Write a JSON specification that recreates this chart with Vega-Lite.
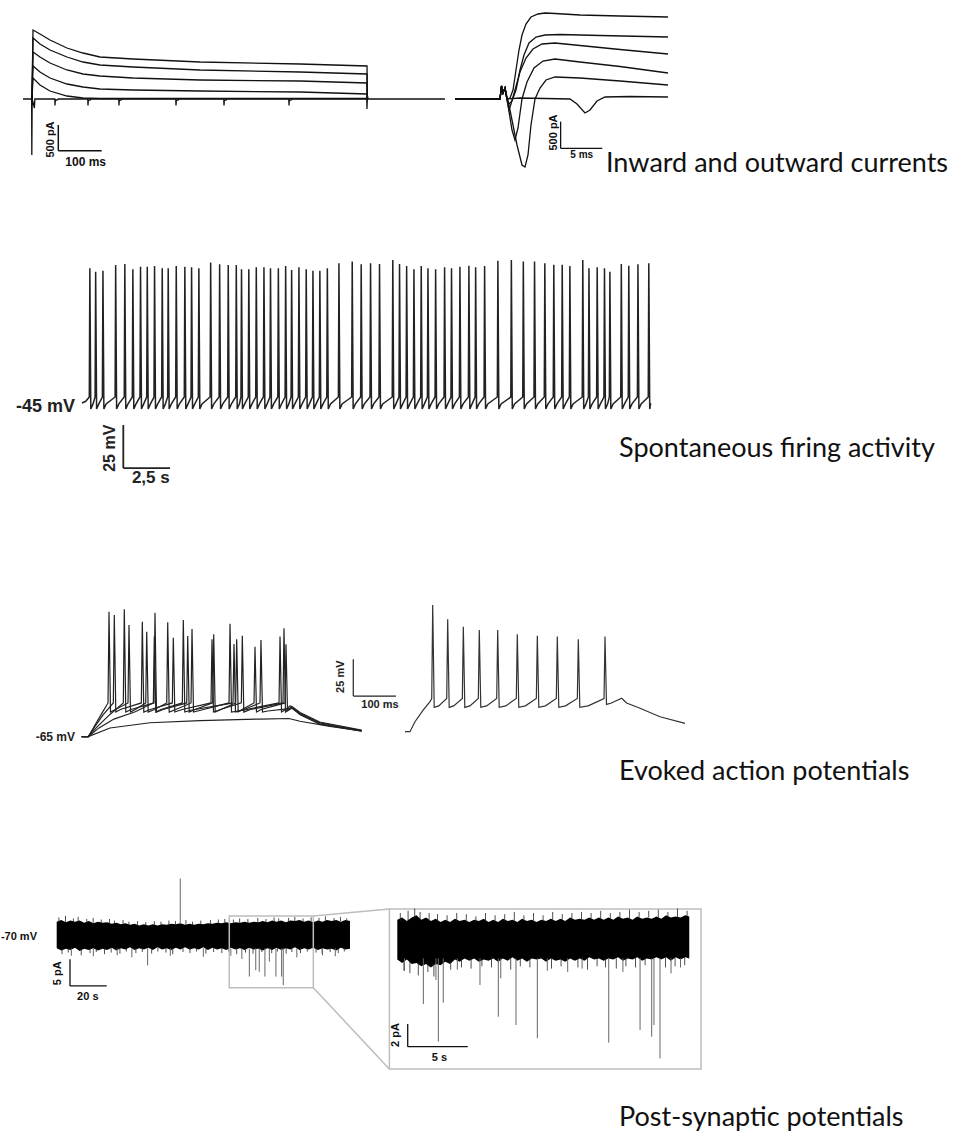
{
"$schema": "https://vega.github.io/schema/vega-lite/v6.json",
"padding": 0,
"background": "white",
"config": {"view": {"stroke": null}, "concat": {"spacing": 0}},
"spacing": 0,
"bounds": "full",
"vconcat": [
{"hconcat": [
 {"width": 450, "height": 200,
  "encoding": {
   "x": {"field": "t", "type": "quantitative", "scale": {"domain": [-72.7, 950], "nice": false, "zero": false}, "axis": null},
   "y": {"field": "v", "type": "quantitative", "scale": {"domain": [-2020, 1980], "nice": false, "zero": false}, "axis": null}},
  "layer": [
   {"data": {"values": [
    {"k":"a1","t":0,"v":0},{"k":"a1","t":2.3,"v":1380},{"k":"a1","t":18.2,"v":1300},{"k":"a1","t":40.9,"v":1180},{"k":"a1","t":79.5,"v":1020},{"k":"a1","t":115.9,"v":920},{"k":"a1","t":154.5,"v":840},{"k":"a1","t":229.5,"v":800},{"k":"a1","t":381.8,"v":740},{"k":"a1","t":609.1,"v":700},{"k":"a1","t":761.4,"v":660},{"k":"a1","t":762,"v":0},
    {"k":"a2","t":0,"v":0},{"k":"a2","t":2.3,"v":1220},{"k":"a2","t":18.2,"v":1100},{"k":"a2","t":40.9,"v":980},{"k":"a2","t":79.5,"v":840},{"k":"a2","t":115.9,"v":740},{"k":"a2","t":154.5,"v":680},{"k":"a2","t":229.5,"v":640},{"k":"a2","t":381.8,"v":580},{"k":"a2","t":609.1,"v":540},{"k":"a2","t":761.4,"v":500},{"k":"a2","t":762,"v":0},
    {"k":"a3","t":0,"v":0},{"k":"a3","t":2.3,"v":940},{"k":"a3","t":18.2,"v":840},{"k":"a3","t":40.9,"v":720},{"k":"a3","t":79.5,"v":580},{"k":"a3","t":115.9,"v":500},{"k":"a3","t":154.5,"v":460},{"k":"a3","t":229.5,"v":420},{"k":"a3","t":381.8,"v":380},{"k":"a3","t":609.1,"v":360},{"k":"a3","t":761.4,"v":320},{"k":"a3","t":762,"v":0},
    {"k":"a4","t":0,"v":0},{"k":"a4","t":2.3,"v":660},{"k":"a4","t":18.2,"v":540},{"k":"a4","t":40.9,"v":420},{"k":"a4","t":79.5,"v":300},{"k":"a4","t":115.9,"v":240},{"k":"a4","t":154.5,"v":200},{"k":"a4","t":229.5,"v":180},{"k":"a4","t":381.8,"v":160},{"k":"a4","t":609.1,"v":140},{"k":"a4","t":761.4,"v":100},{"k":"a4","t":762,"v":0},
    {"k":"a5","t":0,"v":0},{"k":"a5","t":2.3,"v":420},{"k":"a5","t":18.2,"v":280},{"k":"a5","t":40.9,"v":160},{"k":"a5","t":79.5,"v":60},{"k":"a5","t":115.9,"v":20},{"k":"a5","t":154.5,"v":10},{"k":"a5","t":761.4,"v":10},{"k":"a5","t":762,"v":0},
    {"k":"a0","t":-20.5,"v":0},{"k":"a0","t":-0.8,"v":0},{"k":"a0","t":-0.4,"v":-1120},{"k":"a0","t":0.4,"v":0},{"k":"a0","t":5.5,"v":-180},{"k":"a0","t":6.5,"v":0},
    {"k":"a0","t":51.8,"v":0},{"k":"a0","t":52.3,"v":-130},{"k":"a0","t":53,"v":-20},{"k":"a0","t":57,"v":-20},{"k":"a0","t":60,"v":0},
    {"k":"a0","t":126.8,"v":0},{"k":"a0","t":127.3,"v":-130},{"k":"a0","t":128,"v":-20},{"k":"a0","t":132,"v":-20},{"k":"a0","t":135,"v":0},
    {"k":"a0","t":197.2,"v":0},{"k":"a0","t":197.7,"v":-130},{"k":"a0","t":198.4,"v":-20},{"k":"a0","t":202.4,"v":-20},{"k":"a0","t":205.4,"v":0},
    {"k":"a0","t":326.8,"v":0},{"k":"a0","t":327.3,"v":-130},{"k":"a0","t":328,"v":-20},{"k":"a0","t":332,"v":-20},{"k":"a0","t":335,"v":0},
    {"k":"a0","t":435.9,"v":0},{"k":"a0","t":436.4,"v":-130},{"k":"a0","t":437.1,"v":-20},{"k":"a0","t":441.1,"v":-20},{"k":"a0","t":444.1,"v":0},
    {"k":"a0","t":583.6,"v":0},{"k":"a0","t":584.1,"v":-130},{"k":"a0","t":584.8,"v":-20},{"k":"a0","t":588.8,"v":-20},{"k":"a0","t":591.8,"v":0},
    {"k":"a0","t":760.8,"v":0},{"k":"a0","t":761.3,"v":-200},{"k":"a0","t":762.3,"v":60},{"k":"a0","t":764,"v":0},{"k":"a0","t":938.6,"v":0}
   ]},
    "mark": {"type": "line", "color": "#111", "strokeWidth": 1.3},
    "encoding": {"detail": {"field": "k"}, "order": {"value": null}}},
   {"data": {"values": [{"t":59.8,"v":-520,"t2":59.8,"v2":-1034},{"t":59.8,"v":-1034,"t2":158.4,"v2":-1034}]},
    "mark": {"type": "rule", "color": "#111", "strokeWidth": 1.5},
    "encoding": {"x2": {"field": "t2"}, "y2": {"field": "v2"}}},
   {"data": {"values": [{"t":122,"v":-1255,"s":"100 ms"}]},
    "mark": {"type": "text", "font": "Liberation Sans", "fontWeight": "bold", "fontSize": 12, "align": "center", "baseline": "middle", "color": "#111"},
    "encoding": {"text": {"field": "s"}}},
   {"data": {"values": [{"t":43.2,"v":-810,"s":"500 pA"}]},
    "mark": {"type": "text", "font": "Liberation Sans", "fontWeight": "bold", "fontSize": 11, "align": "center", "baseline": "middle", "angle": 270, "color": "#111"},
    "encoding": {"text": {"field": "s"}}}
  ]},
 {"width": 517, "height": 200,
  "encoding": {
   "x": {"field": "t", "type": "quantitative", "scale": {"domain": [-6.190, 55.357], "nice": false, "zero": false}, "axis": null},
   "y": {"field": "v", "type": "quantitative", "scale": {"domain": [-2020, 1980], "nice": false, "zero": false}, "axis": null}},
  "layer": [
   {"data": {"values": [
    {"k":"b1","t":-5.595,"v":0},{"k":"b1","t":-0.238,"v":0},{"k":"b1","t":-0.06,"v":260},{"k":"b1","t":0.119,"v":120},{"k":"b1","t":0.357,"v":220},{"k":"b1","t":0.595,"v":0},{"k":"b1","t":0.952,"v":20},{"k":"b1","t":1.31,"v":180},{"k":"b1","t":1.667,"v":580},{"k":"b1","t":2.024,"v":980},{"k":"b1","t":2.381,"v":1280},{"k":"b1","t":2.857,"v":1500},{"k":"b1","t":3.452,"v":1640},{"k":"b1","t":4.286,"v":1700},{"k":"b1","t":5.119,"v":1720},{"k":"b1","t":6.31,"v":1710},{"k":"b1","t":9.286,"v":1680},{"k":"b1","t":14.048,"v":1660},{"k":"b1","t":19.76,"v":1640},
    {"k":"b2","t":-5.595,"v":0},{"k":"b2","t":-0.238,"v":0},{"k":"b2","t":-0.06,"v":260},{"k":"b2","t":0.119,"v":120},{"k":"b2","t":0.357,"v":220},{"k":"b2","t":0.595,"v":0},{"k":"b2","t":0.833,"v":-100},{"k":"b2","t":1.19,"v":-40},{"k":"b2","t":1.667,"v":180},{"k":"b2","t":2.143,"v":580},{"k":"b2","t":2.619,"v":880},{"k":"b2","t":3.214,"v":1120},{"k":"b2","t":4.048,"v":1240},{"k":"b2","t":5.119,"v":1280},{"k":"b2","t":6.905,"v":1290},{"k":"b2","t":11.667,"v":1270},{"k":"b2","t":19.76,"v":1240},
    {"k":"b3","t":-5.595,"v":0},{"k":"b3","t":-0.238,"v":0},{"k":"b3","t":-0.06,"v":260},{"k":"b3","t":0.119,"v":120},{"k":"b3","t":0.357,"v":220},{"k":"b3","t":0.595,"v":-20},{"k":"b3","t":0.833,"v":-220},{"k":"b3","t":1.071,"v":-100},{"k":"b3","t":1.548,"v":180},{"k":"b3","t":2.143,"v":540},{"k":"b3","t":2.857,"v":820},{"k":"b3","t":3.69,"v":1000},{"k":"b3","t":4.762,"v":1100},{"k":"b3","t":6.31,"v":1120},{"k":"b3","t":9.286,"v":1070},{"k":"b3","t":14.048,"v":990},{"k":"b3","t":19.76,"v":900},
    {"k":"b4","t":-5.595,"v":0},{"k":"b4","t":-0.238,"v":0},{"k":"b4","t":-0.06,"v":260},{"k":"b4","t":0.119,"v":120},{"k":"b4","t":0.357,"v":220},{"k":"b4","t":0.714,"v":-120},{"k":"b4","t":1.19,"v":-620},{"k":"b4","t":1.548,"v":-820},{"k":"b4","t":1.905,"v":-580},{"k":"b4","t":2.381,"v":0},{"k":"b4","t":2.976,"v":340},{"k":"b4","t":3.81,"v":620},{"k":"b4","t":4.881,"v":760},{"k":"b4","t":6.31,"v":800},{"k":"b4","t":9.286,"v":740},{"k":"b4","t":14.048,"v":650},{"k":"b4","t":19.76,"v":520},
    {"k":"b5","t":-5.595,"v":0},{"k":"b5","t":-0.238,"v":0},{"k":"b5","t":-0.06,"v":260},{"k":"b5","t":0.119,"v":120},{"k":"b5","t":0.357,"v":220},{"k":"b5","t":0.952,"v":-220},{"k":"b5","t":1.786,"v":-920},{"k":"b5","t":2.381,"v":-1320},{"k":"b5","t":2.738,"v":-1360},{"k":"b5","t":3.095,"v":-1120},{"k":"b5","t":3.452,"v":-520},{"k":"b5","t":3.929,"v":0},{"k":"b5","t":4.524,"v":220},{"k":"b5","t":5.238,"v":380},{"k":"b5","t":6.31,"v":440},{"k":"b5","t":9.286,"v":420},{"k":"b5","t":14.048,"v":360},{"k":"b5","t":19.76,"v":280},
    {"k":"b0","t":-5.595,"v":0},{"k":"b0","t":-0.238,"v":0},{"k":"b0","t":-0.06,"v":260},{"k":"b0","t":0.119,"v":120},{"k":"b0","t":0.357,"v":220},{"k":"b0","t":0.595,"v":0},{"k":"b0","t":2.143,"v":20},{"k":"b0","t":8.095,"v":0},{"k":"b0","t":8.929,"v":-100},{"k":"b0","t":9.881,"v":-280},{"k":"b0","t":10.476,"v":-220},{"k":"b0","t":11.31,"v":-40},{"k":"b0","t":12.262,"v":40},{"k":"b0","t":15.238,"v":50},{"k":"b0","t":19.76,"v":40}
   ]},
    "mark": {"type": "line", "color": "#111", "strokeWidth": 1.3},
    "encoding": {"detail": {"field": "k"}, "order": {"value": null}}},
   {"data": {"values": [{"t":6.98,"v":-453,"t2":6.98,"v2":-987},{"t":6.98,"v":-987,"t2":11.94,"v2":-987}]},
    "mark": {"type": "rule", "color": "#111", "strokeWidth": 1.3},
    "encoding": {"x2": {"field": "t2"}, "y2": {"field": "v2"}}},
   {"data": {"values": [{"t":9.49,"v":-1120,"s":"5 ms"}]},
    "mark": {"type": "text", "font": "Liberation Sans", "fontWeight": "bold", "fontSize": 10, "align": "center", "baseline": "middle", "color": "#111"},
    "encoding": {"text": {"field": "s"}}},
   {"data": {"values": [{"t":6.19,"v":-670,"s":"500 pA"}]},
    "mark": {"type": "text", "font": "Liberation Sans", "fontWeight": "bold", "fontSize": 11, "align": "center", "baseline": "middle", "angle": 270, "color": "#111"},
    "encoding": {"text": {"field": "s"}}},
   {"data": {"values": [{"t":12.38,"v":-1460,"s":"Inward and outward currents"}]},
    "mark": {"type": "text", "font": "Lato", "fontSize": 27, "align": "left", "baseline": "alphabetic", "color": "#111"},
    "encoding": {"text": {"field": "s"}}}
  ]}
], "spacing": 0, "bounds": "flush"},
{"width": 967, "height": 320,
 "encoding": {
  "x": {"field": "t", "type": "quantitative", "scale": {"domain": [-4.385, 47.326], "nice": false, "zero": false}, "axis": null},
  "y": {"field": "v", "type": "quantitative", "scale": {"domain": [-113.0, 73.0], "nice": false, "zero": false}, "axis": null}},
 "layer": [
  {"data": {"values": [
   {"t":0,"v":-45},{"t":0.2,"v":-44},
   {"t":0.39,"v":-41.5},{"t":0.42,"v":33.3},{"t":0.47,"v":-48.5},{"t":0.59,"v":-45.5},
   {"t":0.70,"v":-41.5},{"t":0.73,"v":31.3},{"t":0.78,"v":-48.5},{"t":0.90,"v":-45.5},
   {"t":1.09,"v":-41.5},{"t":1.12,"v":31.9},{"t":1.17,"v":-48.5},{"t":1.29,"v":-45.5},
   {"t":1.77,"v":-41.5},{"t":1.80,"v":35.2},{"t":1.85,"v":-48.5},{"t":1.97,"v":-45.5},
   {"t":2.26,"v":-41.5},{"t":2.29,"v":35.8},{"t":2.34,"v":-48.5},{"t":2.46,"v":-45.5},
   {"t":2.69,"v":-41.5},{"t":2.72,"v":32.7},{"t":2.77,"v":-48.5},{"t":2.89,"v":-45.5},
   {"t":3.10,"v":-41.5},{"t":3.13,"v":34.2},{"t":3.18,"v":-48.5},{"t":3.30,"v":-45.5},
   {"t":3.46,"v":-41.5},{"t":3.49,"v":34.2},{"t":3.54,"v":-48.5},{"t":3.66,"v":-45.5},
   {"t":3.85,"v":-41.5},{"t":3.88,"v":34.7},{"t":3.93,"v":-48.5},{"t":4.05,"v":-45.5},
   {"t":4.26,"v":-41.5},{"t":4.29,"v":33.3},{"t":4.34,"v":-48.5},{"t":4.46,"v":-45.5},
   {"t":4.58,"v":-41.5},{"t":4.61,"v":33.3},{"t":4.66,"v":-48.5},{"t":4.78,"v":-45.5},
   {"t":5.01,"v":-41.5},{"t":5.04,"v":34.7},{"t":5.09,"v":-48.5},{"t":5.21,"v":-45.5},
   {"t":5.47,"v":-41.5},{"t":5.50,"v":34.2},{"t":5.55,"v":-48.5},{"t":5.67,"v":-45.5},
   {"t":5.83,"v":-41.5},{"t":5.86,"v":33.9},{"t":5.91,"v":-48.5},{"t":6.03,"v":-45.5},
   {"t":6.22,"v":-41.5},{"t":6.25,"v":33.3},{"t":6.30,"v":-48.5},{"t":6.42,"v":-45.5},
   {"t":6.85,"v":-41.5},{"t":6.88,"v":36.6},{"t":6.93,"v":-48.5},{"t":7.05,"v":-45.5},
   {"t":7.33,"v":-41.5},{"t":7.36,"v":35.6},{"t":7.41,"v":-48.5},{"t":7.53,"v":-45.5},
   {"t":7.79,"v":-41.5},{"t":7.82,"v":35.2},{"t":7.87,"v":-48.5},{"t":7.99,"v":-45.5},
   {"t":8.22,"v":-41.5},{"t":8.25,"v":35.2},{"t":8.30,"v":-48.5},{"t":8.42,"v":-45.5},
   {"t":8.50,"v":-41.5},{"t":8.53,"v":32.7},{"t":8.58,"v":-48.5},{"t":8.70,"v":-45.5},
   {"t":8.89,"v":-41.5},{"t":8.92,"v":32.7},{"t":8.97,"v":-48.5},{"t":9.09,"v":-45.5},
   {"t":9.29,"v":-41.5},{"t":9.32,"v":33.9},{"t":9.37,"v":-48.5},{"t":9.49,"v":-45.5},
   {"t":9.70,"v":-41.5},{"t":9.73,"v":33.9},{"t":9.78,"v":-48.5},{"t":9.90,"v":-45.5},
   {"t":10.05,"v":-41.5},{"t":10.08,"v":33.3},{"t":10.13,"v":-48.5},{"t":10.25,"v":-45.5},
   {"t":10.47,"v":-41.5},{"t":10.50,"v":33.3},{"t":10.55,"v":-48.5},{"t":10.67,"v":-45.5},
   {"t":10.86,"v":-41.5},{"t":10.89,"v":34.7},{"t":10.94,"v":-48.5},{"t":11.06,"v":-45.5},
   {"t":11.18,"v":-41.5},{"t":11.21,"v":32.3},{"t":11.26,"v":-48.5},{"t":11.38,"v":-45.5},
   {"t":11.57,"v":-41.5},{"t":11.60,"v":33.9},{"t":11.65,"v":-48.5},{"t":11.77,"v":-45.5},
   {"t":11.96,"v":-41.5},{"t":11.99,"v":32.7},{"t":12.04,"v":-48.5},{"t":12.16,"v":-45.5},
   {"t":12.32,"v":-41.5},{"t":12.35,"v":31.9},{"t":12.40,"v":-48.5},{"t":12.52,"v":-45.5},
   {"t":12.69,"v":-41.5},{"t":12.72,"v":31.9},{"t":12.77,"v":-48.5},{"t":12.89,"v":-45.5},
   {"t":13.09,"v":-41.5},{"t":13.12,"v":33.3},{"t":13.17,"v":-48.5},{"t":13.29,"v":-45.5},
   {"t":13.71,"v":-41.5},{"t":13.74,"v":36.2},{"t":13.79,"v":-48.5},{"t":13.91,"v":-45.5},
   {"t":14.42,"v":-41.5},{"t":14.45,"v":37.2},{"t":14.50,"v":-48.5},{"t":14.62,"v":-45.5},
   {"t":14.90,"v":-41.5},{"t":14.93,"v":35.6},{"t":14.98,"v":-48.5},{"t":15.10,"v":-45.5},
   {"t":15.40,"v":-41.5},{"t":15.43,"v":36.2},{"t":15.48,"v":-48.5},{"t":15.60,"v":-45.5},
   {"t":15.88,"v":-41.5},{"t":15.91,"v":35.8},{"t":15.96,"v":-48.5},{"t":16.08,"v":-45.5},
   {"t":16.59,"v":-41.5},{"t":16.62,"v":38.1},{"t":16.67,"v":-48.5},{"t":16.79,"v":-45.5},
   {"t":16.95,"v":-41.5},{"t":16.98,"v":35.8},{"t":17.03,"v":-48.5},{"t":17.15,"v":-45.5},
   {"t":17.33,"v":-41.5},{"t":17.36,"v":34.7},{"t":17.41,"v":-48.5},{"t":17.53,"v":-45.5},
   {"t":17.72,"v":-41.5},{"t":17.75,"v":32.7},{"t":17.80,"v":-48.5},{"t":17.92,"v":-45.5},
   {"t":18.11,"v":-41.5},{"t":18.14,"v":34.7},{"t":18.19,"v":-48.5},{"t":18.31,"v":-45.5},
   {"t":18.47,"v":-41.5},{"t":18.50,"v":33.3},{"t":18.55,"v":-48.5},{"t":18.67,"v":-45.5},
   {"t":18.88,"v":-41.5},{"t":18.91,"v":32.7},{"t":18.96,"v":-48.5},{"t":19.08,"v":-45.5},
   {"t":19.36,"v":-41.5},{"t":19.39,"v":33.9},{"t":19.44,"v":-48.5},{"t":19.56,"v":-45.5},
   {"t":19.73,"v":-41.5},{"t":19.76,"v":33.3},{"t":19.81,"v":-48.5},{"t":19.93,"v":-45.5},
   {"t":20.18,"v":-41.5},{"t":20.21,"v":34.2},{"t":20.26,"v":-48.5},{"t":20.38,"v":-45.5},
   {"t":20.66,"v":-41.5},{"t":20.69,"v":34.8},{"t":20.74,"v":-48.5},{"t":20.86,"v":-45.5},
   {"t":21.02,"v":-41.5},{"t":21.05,"v":33.9},{"t":21.10,"v":-48.5},{"t":21.22,"v":-45.5},
   {"t":21.50,"v":-41.5},{"t":21.53,"v":34.7},{"t":21.58,"v":-48.5},{"t":21.70,"v":-45.5},
   {"t":22.21,"v":-41.5},{"t":22.24,"v":37.7},{"t":22.29,"v":-48.5},{"t":22.41,"v":-45.5},
   {"t":22.93,"v":-41.5},{"t":22.96,"v":38.1},{"t":23.01,"v":-48.5},{"t":23.13,"v":-45.5},
   {"t":23.57,"v":-41.5},{"t":23.60,"v":37.2},{"t":23.65,"v":-48.5},{"t":23.77,"v":-45.5},
   {"t":24.17,"v":-41.5},{"t":24.20,"v":37.2},{"t":24.25,"v":-48.5},{"t":24.37,"v":-45.5},
   {"t":24.72,"v":-41.5},{"t":24.75,"v":36.2},{"t":24.80,"v":-48.5},{"t":24.92,"v":-45.5},
   {"t":25.20,"v":-41.5},{"t":25.23,"v":35.4},{"t":25.28,"v":-48.5},{"t":25.40,"v":-45.5},
   {"t":25.65,"v":-41.5},{"t":25.68,"v":35.4},{"t":25.73,"v":-48.5},{"t":25.85,"v":-45.5},
   {"t":26.06,"v":-41.5},{"t":26.09,"v":34.7},{"t":26.14,"v":-48.5},{"t":26.26,"v":-45.5},
   {"t":26.75,"v":-41.5},{"t":26.78,"v":38.1},{"t":26.83,"v":-48.5},{"t":26.95,"v":-45.5},
   {"t":27.08,"v":-41.5},{"t":27.11,"v":33.3},{"t":27.16,"v":-48.5},{"t":27.28,"v":-45.5},
   {"t":27.52,"v":-41.5},{"t":27.55,"v":33.9},{"t":27.60,"v":-48.5},{"t":27.72,"v":-45.5},
   {"t":27.91,"v":-41.5},{"t":27.94,"v":33.3},{"t":27.99,"v":-48.5},{"t":28.11,"v":-45.5},
   {"t":28.20,"v":-41.5},{"t":28.23,"v":31.3},{"t":28.28,"v":-48.5},{"t":28.40,"v":-45.5},
   {"t":28.81,"v":-41.5},{"t":28.84,"v":35.8},{"t":28.89,"v":-48.5},{"t":29.01,"v":-45.5},
   {"t":29.21,"v":-41.5},{"t":29.24,"v":34.8},{"t":29.29,"v":-48.5},{"t":29.41,"v":-45.5},
   {"t":29.70,"v":-41.5},{"t":29.73,"v":35.6},{"t":29.78,"v":-48.5},{"t":29.90,"v":-45.5},
   {"t":30.28,"v":-41.5},{"t":30.31,"v":36.2},{"t":30.36,"v":-48.5},{"t":30.41,"v":-45}
  ]},
   "mark": {"type": "line", "color": "#222", "strokeWidth": 1.5},
   "encoding": {"order": {"value": null}}},
  {"data": {"values": [{"t":2.209,"v":-57.8,"t2":2.209,"v2":-82.8},{"t":2.209,"v":-82.8,"t2":4.709,"v2":-82.8}]},
   "mark": {"type": "rule", "color": "#222", "strokeWidth": 1.8},
   "encoding": {"x2": {"field": "t2"}, "y2": {"field": "v2"}}},
  {"data": {"values": [{"t":-0.374,"v":-47.2,"s":"-45 mV"}]},
   "mark": {"type": "text", "font": "Liberation Sans", "fontWeight": "bold", "fontSize": 18, "align": "right", "baseline": "middle", "color": "#222"},
   "encoding": {"text": {"field": "s"}}},
  {"data": {"values": [{"t":3.68,"v":-88.8,"s":"2,5 s"}]},
   "mark": {"type": "text", "font": "Liberation Sans", "fontWeight": "bold", "fontSize": 17, "align": "center", "baseline": "middle", "color": "#222"},
   "encoding": {"text": {"field": "s"}}},
  {"data": {"values": [{"t":1.497,"v":-71.3,"s":"25 mV"}]},
   "mark": {"type": "text", "font": "Liberation Sans", "fontWeight": "bold", "fontSize": 16, "align": "center", "baseline": "middle", "angle": 270, "color": "#222"},
   "encoding": {"text": {"field": "s"}}},
  {"data": {"values": [{"t":28.72,"v":-76.4,"s":"Spontaneous firing activity"}]},
   "mark": {"type": "text", "font": "Lato", "fontSize": 27, "align": "left", "baseline": "alphabetic", "color": "#111"},
   "encoding": {"text": {"field": "s"}}}
 ]},
{"hconcat": [
 {"width": 400, "height": 300,
  "encoding": {
   "x": {"field": "t", "type": "quantitative", "scale": {"domain": [-206.8, 730.0], "nice": false, "zero": false}, "axis": null},
   "y": {"field": "v", "type": "quantitative", "scale": {"domain": [-121.8, 82.7], "nice": false, "zero": false}, "axis": null}},
  "layer": [
   {"data": {"values": [
    {"k":"T1","t":-15.5,"v":-65},{"k":"T1","t":0,"v":-65},{"k":"T1","t":15.7,"v":-57},{"k":"T1","t":30,"v":-50},{"k":"T1","t":46.2,"v":-42},{"k":"T1","t":48.5,"v":20.2},{"k":"T1","t":52,"v":-48.2},{"k":"T1","t":60,"v":-47},{"k":"T1","t":93,"v":-42},{"k":"T1","t":95.3,"v":11.1},{"k":"T1","t":98.8,"v":-48.2},{"k":"T1","t":110,"v":-46.5},{"k":"T1","t":134.5,"v":-42},{"k":"T1","t":136.8,"v":6.6},{"k":"T1","t":140.3,"v":-48.2},{"k":"T1","t":155,"v":-46.5},{"k":"T1","t":183.7,"v":-42},{"k":"T1","t":186,"v":13},{"k":"T1","t":189.5,"v":-48.2},{"k":"T1","t":205,"v":-46.5},{"k":"T1","t":240.6,"v":-42},{"k":"T1","t":242.9,"v":8.4},{"k":"T1","t":246.4,"v":-48.2},{"k":"T1","t":270,"v":-46.5},{"k":"T1","t":329.6,"v":-42},{"k":"T1","t":331.9,"v":12},{"k":"T1","t":335.4,"v":-48.2},{"k":"T1","t":370,"v":-46.5},{"k":"T1","t":446.7,"v":-42},{"k":"T1","t":449,"v":3.2},{"k":"T1","t":452.5,"v":-48.2},{"k":"T1","t":465,"v":-46},{"k":"T1","t":472,"v":-44},{"k":"T1","t":477,"v":-44.5},{"k":"T1","t":496,"v":-48.5},{"k":"T1","t":542,"v":-55},{"k":"T1","t":640,"v":-60.5},
    {"k":"T2","t":-15.5,"v":-65},{"k":"T2","t":0,"v":-65},{"k":"T2","t":15.7,"v":-58},{"k":"T2","t":35,"v":-50},{"k":"T2","t":58.6,"v":-42},{"k":"T2","t":60.9,"v":18},{"k":"T2","t":64.4,"v":-48.2},{"k":"T2","t":75,"v":-46.5},{"k":"T2","t":124.2,"v":-42},{"k":"T2","t":126.5,"v":13.4},{"k":"T2","t":130,"v":-48.2},{"k":"T2","t":145,"v":-46.5},{"k":"T2","t":196.8,"v":-42},{"k":"T2","t":199.1,"v":2.5},{"k":"T2","t":202.6,"v":-48.2},{"k":"T2","t":220,"v":-46.5},{"k":"T2","t":287.4,"v":-42},{"k":"T2","t":289.7,"v":1.4},{"k":"T2","t":293.2,"v":-48.2},{"k":"T2","t":310,"v":-46.5},{"k":"T2","t":358.4,"v":-42},{"k":"T2","t":360.7,"v":3.8},{"k":"T2","t":364.2,"v":-48.2},{"k":"T2","t":380,"v":-46.5},{"k":"T2","t":456,"v":-42},{"k":"T2","t":458.3,"v":8.9},{"k":"T2","t":461.8,"v":-48.2},{"k":"T2","t":468,"v":-46.5},{"k":"T2","t":475,"v":-45},{"k":"T2","t":495,"v":-49},{"k":"T2","t":542,"v":-55.5},{"k":"T2","t":640,"v":-60.8},
    {"k":"T3","t":-15.5,"v":-65},{"k":"T3","t":0,"v":-65},{"k":"T3","t":20,"v":-58.5},{"k":"T3","t":50,"v":-50},{"k":"T3","t":82,"v":-42},{"k":"T3","t":84.3,"v":21.8},{"k":"T3","t":87.8,"v":-48.2},{"k":"T3","t":100,"v":-46.5},{"k":"T3","t":153.9,"v":-42},{"k":"T3","t":156.2,"v":19.5},{"k":"T3","t":159.7,"v":-48.2},{"k":"T3","t":175,"v":-46.5},{"k":"T3","t":230.5,"v":-42},{"k":"T3","t":232.8,"v":3.6},{"k":"T3","t":236.3,"v":-48.2},{"k":"T3","t":250,"v":-46.5},{"k":"T3","t":291.4,"v":-42},{"k":"T3","t":293.7,"v":4.8},{"k":"T3","t":297.2,"v":-48.2},{"k":"T3","t":310,"v":-46.5},{"k":"T3","t":345.2,"v":-42},{"k":"T3","t":347.5,"v":1.4},{"k":"T3","t":351,"v":-48.2},{"k":"T3","t":360,"v":-46.5},{"k":"T3","t":388.1,"v":-42},{"k":"T3","t":390.4,"v":-3.7},{"k":"T3","t":393.9,"v":-48.2},{"k":"T3","t":405,"v":-46.5},{"k":"T3","t":460.7,"v":-42},{"k":"T3","t":463,"v":-2},{"k":"T3","t":466.5,"v":-47.5},{"k":"T3","t":477,"v":-45.5},{"k":"T3","t":496,"v":-49.5},{"k":"T3","t":542,"v":-56},{"k":"T3","t":640,"v":-61},
    {"k":"T4","t":-15.5,"v":-65},{"k":"T4","t":0,"v":-65},{"k":"T4","t":25,"v":-59},{"k":"T4","t":60,"v":-53},{"k":"T4","t":110,"v":-48},{"k":"T4","t":152.3,"v":-42},{"k":"T4","t":154.6,"v":3.2},{"k":"T4","t":158.1,"v":-48.2},{"k":"T4","t":170,"v":-46.5},{"k":"T4","t":220.2,"v":-42},{"k":"T4","t":222.5,"v":14.6},{"k":"T4","t":226,"v":-48.2},{"k":"T4","t":240,"v":-47},{"k":"T4","t":338.9,"v":-42},{"k":"T4","t":341.2,"v":-1.8},{"k":"T4","t":344.7,"v":-48.2},{"k":"T4","t":360,"v":-47},{"k":"T4","t":402.1,"v":-42},{"k":"T4","t":404.4,"v":0.9},{"k":"T4","t":407.9,"v":-48.2},{"k":"T4","t":420,"v":-47.5},{"k":"T4","t":465,"v":-46},{"k":"T4","t":477,"v":-45.5},{"k":"T4","t":496,"v":-50},{"k":"T4","t":542,"v":-56.5},{"k":"T4","t":640,"v":-61.2},
    {"k":"T5","t":-15.5,"v":-65},{"k":"T5","t":0,"v":-65},{"k":"T5","t":50.8,"v":-59.1},{"k":"T5","t":144.5,"v":-55.5},{"k":"T5","t":261.6,"v":-54.0},{"k":"T5","t":402.1,"v":-53},{"k":"T5","t":470,"v":-52.6},{"k":"T5","t":495.8,"v":-54.5},{"k":"T5","t":566,"v":-58},{"k":"T5","t":640.3,"v":-61}
   ]},
    "mark": {"type": "line", "color": "#222", "strokeWidth": 1.2},
    "encoding": {"detail": {"field": "k"}, "order": {"value": null}}},
   {"data": {"values": [{"t":620.6,"v":-12.3,"t2":620.6,"v2":-37.3},{"t":620.6,"v":-37.3,"t2":720.6,"v2":-37.3}]},
    "mark": {"type": "rule", "color": "#222", "strokeWidth": 1.2},
    "encoding": {"x2": {"field": "t2"}, "y2": {"field": "v2"}}},
   {"data": {"values": [{"t":-31.1,"v":-65,"s":"-65 mV"}]},
    "mark": {"type": "text", "font": "Liberation Sans", "fontWeight": "bold", "fontSize": 12, "align": "right", "baseline": "middle", "color": "#222"},
    "encoding": {"text": {"field": "s"}}},
   {"data": {"values": [{"t":683.1,"v":-43.4,"s":"100 ms"}]},
    "mark": {"type": "text", "font": "Liberation Sans", "fontWeight": "bold", "fontSize": 11, "align": "center", "baseline": "middle", "color": "#222"},
    "encoding": {"text": {"field": "s"}}},
   {"data": {"values": [{"t":592.5,"v":-24.1,"s":"25 mV"}]},
    "mark": {"type": "text", "font": "Liberation Sans", "fontWeight": "bold", "fontSize": 11, "align": "center", "baseline": "middle", "angle": 270, "color": "#222"},
    "encoding": {"text": {"field": "s"}}}
  ]},
 {"width": 567, "height": 300,
  "encoding": {
   "x": {"field": "t", "type": "quantitative", "scale": {"domain": [-15.69, 1312.18], "nice": false, "zero": false}, "axis": null},
   "y": {"field": "v", "type": "quantitative", "scale": {"domain": [-121.8, 82.7], "nice": false, "zero": false}, "axis": null}},
  "layer": [
   {"data": {"values": [
    {"t":-4,"v":-61.6},{"t":7.7,"v":-61.6},{"t":19.4,"v":-54.8},{"t":38.9,"v":-46.8},{"t":54.6,"v":-41.1},{"t":58.6,"v":-39},{"t":60.9,"v":24.8},{"t":64.4,"v":-45},{"t":75,"v":-44},{"t":93.7,"v":-39},{"t":96,"v":15},{"t":99.5,"v":-45},{"t":110,"v":-44},{"t":130.3,"v":-39},{"t":132.6,"v":10},{"t":136.1,"v":-45},{"t":148,"v":-44},{"t":167.7,"v":-39},{"t":170,"v":7.7},{"t":173.5,"v":-45},{"t":187,"v":-44},{"t":210.8,"v":-39},{"t":213.1,"v":7.7},{"t":216.6,"v":-45},{"t":232,"v":-44},{"t":256.7,"v":-39},{"t":259,"v":4.8},{"t":262.5,"v":-45},{"t":278,"v":-44},{"t":303.6,"v":-39},{"t":305.9,"v":3.8},{"t":309.4,"v":-45},{"t":325,"v":-44},{"t":350.4,"v":-39},{"t":352.7,"v":3.2},{"t":356.2,"v":-45},{"t":372,"v":-44},{"t":399.6,"v":-39},{"t":401.9,"v":1.4},{"t":405.4,"v":-45},{"t":425,"v":-44},{"t":462.1,"v":-39},{"t":464.4,"v":3.2},{"t":467.9,"v":-43},{"t":478,"v":-42.2},{"t":503.5,"v":-38.8},{"t":515,"v":-42},{"t":546.4,"v":-45.6},{"t":593.2,"v":-51.4},{"t":651.8,"v":-55.9}
   ]},
    "mark": {"type": "line", "color": "#333", "strokeWidth": 1.2},
    "encoding": {"order": {"value": null}}},
   {"data": {"values": [{"t":497.2,"v":-94.5,"s":"Evoked action potentials"}]},
    "mark": {"type": "text", "font": "Lato", "fontSize": 27, "align": "left", "baseline": "alphabetic", "color": "#111"},
    "encoding": {"text": {"field": "s"}}}
  ]}
], "spacing": 0, "bounds": "flush"},
{"hconcat": [
 {"width": 389, "height": 312,
  "encoding": {
   "x": {"field": "t", "type": "quantitative", "scale": {"domain": [-30.93, 181.29], "nice": false, "zero": false}, "axis": null},
   "y": {"field": "v", "type": "quantitative", "scale": {"domain": [-36.94, 21.56], "nice": false, "zero": false}, "axis": null}},
  "layer": [
   {"data": {"values": [
    {"t":0,"v":2.5,"v2":-2.5},{"t":2.5,"v":2.8,"v2":-2.9},{"t":5,"v":2.4,"v2":-2.6},{"t":7.5,"v":2.7,"v2":-2.8},{"t":10,"v":2.5,"v2":-2.4},{"t":12.5,"v":2.7,"v2":-3.0},{"t":15,"v":2.3,"v2":-2.6},{"t":17.5,"v":2.6,"v2":-2.8},{"t":20,"v":2.2,"v2":-2.5},{"t":22.5,"v":2.5,"v2":-2.9},
    {"t":25,"v":2.3,"v2":-2.6},{"t":27.5,"v":2.4,"v2":-2.8},{"t":30,"v":2.1,"v2":-2.4},{"t":32.5,"v":2.3,"v2":-2.9},{"t":35,"v":2.0,"v2":-2.5},{"t":37.5,"v":2.2,"v2":-2.7},{"t":40,"v":1.9,"v2":-2.3},{"t":42.5,"v":2.1,"v2":-2.8},{"t":45,"v":1.8,"v2":-2.5},{"t":47.5,"v":2.0,"v2":-2.7},
    {"t":50,"v":1.8,"v2":-2.4},{"t":52.5,"v":2.0,"v2":-2.8},{"t":55,"v":1.8,"v2":-2.3},{"t":57.5,"v":2.0,"v2":-2.7},{"t":60,"v":1.9,"v2":-2.5},{"t":62.5,"v":2.1,"v2":-2.8},{"t":65,"v":2.0,"v2":-2.4},{"t":67.5,"v":2.2,"v2":-2.7},{"t":70,"v":1.9,"v2":-2.3},{"t":72.5,"v":2.1,"v2":-2.7},
    {"t":75,"v":1.9,"v2":-2.5},{"t":77.5,"v":2.1,"v2":-2.7},{"t":80,"v":2.0,"v2":-2.3},{"t":82.5,"v":2.2,"v2":-2.8},{"t":85,"v":2.1,"v2":-2.4},{"t":87.5,"v":2.3,"v2":-2.7},{"t":90,"v":2.2,"v2":-2.5},{"t":92.5,"v":2.4,"v2":-2.8},{"t":95,"v":2.2,"v2":-2.4},{"t":97.5,"v":2.4,"v2":-2.7},
    {"t":100,"v":2.3,"v2":-2.5},{"t":102.5,"v":2.5,"v2":-2.8},{"t":105,"v":2.3,"v2":-2.4},{"t":107.5,"v":2.5,"v2":-2.7},{"t":110,"v":2.4,"v2":-2.6},{"t":112.5,"v":2.6,"v2":-2.9},{"t":115,"v":2.4,"v2":-2.5},{"t":117.5,"v":2.7,"v2":-2.8},{"t":120,"v":2.5,"v2":-2.4},{"t":122.5,"v":2.7,"v2":-2.8},
    {"t":125,"v":2.4,"v2":-2.5},{"t":127.5,"v":2.7,"v2":-2.7},{"t":130,"v":2.6,"v2":-2.3},{"t":132.5,"v":2.8,"v2":-2.8},{"t":135,"v":2.5,"v2":-2.5},{"t":137.5,"v":2.7,"v2":-2.7},{"t":140,"v":2.4,"v2":-2.4},{"t":142.5,"v":2.7,"v2":-2.8},{"t":145,"v":2.5,"v2":-2.5},{"t":147.5,"v":2.8,"v2":-2.7},
    {"t":150,"v":2.6,"v2":-2.6},{"t":152.5,"v":2.8,"v2":-2.9},{"t":155,"v":2.5,"v2":-2.4},{"t":157.5,"v":2.8,"v2":-2.7},{"t":160,"v":2.6,"v2":-2.6}
   ]},
    "mark": {"type": "area", "color": "#000", "opacity": 1},
    "encoding": {"y2": {"field": "v2"}}},
   {"data": {"values": [
    {"t":1.2,"v":2.4,"v2":3.3},{"t":4.8,"v":2.4,"v2":3.6},{"t":9.1,"v":2.4,"v2":3.1},{"t":11.7,"v":2.4,"v2":3.4},{"t":16.4,"v":2.3,"v2":3.0},{"t":19.9,"v":2.2,"v2":3.2},{"t":24.3,"v":2.2,"v2":2.9},{"t":28.8,"v":2.1,"v2":3.0},{"t":31.5,"v":2.0,"v2":2.7},{"t":36.2,"v":2.0,"v2":2.8},
    {"t":39.4,"v":1.9,"v2":2.5},{"t":44.1,"v":1.8,"v2":2.6},{"t":48.6,"v":1.8,"v2":2.4},{"t":53.3,"v":1.8,"v2":2.6},{"t":56.9,"v":1.8,"v2":2.5},{"t":61.2,"v":1.9,"v2":2.7},{"t":64.8,"v":2.0,"v2":2.6},{"t":70.5,"v":1.9,"v2":2.8},{"t":74.1,"v":1.9,"v2":2.5},{"t":78.6,"v":2.0,"v2":2.7},
    {"t":83.9,"v":2.1,"v2":2.8},{"t":88.2,"v":2.2,"v2":2.9},{"t":91.7,"v":2.3,"v2":3.0},{"t":96.4,"v":2.3,"v2":2.9},{"t":99.8,"v":2.3,"v2":3.1},{"t":104.3,"v":2.3,"v2":3.0},{"t":109.7,"v":2.4,"v2":3.2},{"t":114.2,"v":2.4,"v2":3.0},{"t":118.6,"v":2.5,"v2":3.3},{"t":121.1,"v":2.5,"v2":3.1},
    {"t":126.5,"v":2.5,"v2":3.2},{"t":129.9,"v":2.6,"v2":3.4},{"t":134.4,"v":2.5,"v2":3.1},{"t":138.8,"v":2.5,"v2":3.3},{"t":143.1,"v":2.6,"v2":3.2},{"t":146.6,"v":2.6,"v2":3.5},{"t":151.3,"v":2.6,"v2":3.2},{"t":154.8,"v":2.6,"v2":3.4},{"t":158.2,"v":2.6,"v2":3.1},
    {"t":2.9,"v":-2.5,"v2":-3.6},{"t":6.3,"v":-2.5,"v2":-3.3},{"t":13.4,"v":-2.5,"v2":-3.8},{"t":18.2,"v":-2.5,"v2":-3.4},{"t":21.6,"v":-2.5,"v2":-3.2},{"t":26.1,"v":-2.5,"v2":-3.6},{"t":29.7,"v":-2.4,"v2":-3.3},{"t":34.5,"v":-2.4,"v2":-3.5},{"t":38.0,"v":-2.4,"v2":-3.1},{"t":43.2,"v":-2.4,"v2":-3.4},
    {"t":46.7,"v":-2.4,"v2":-3.2},{"t":51.8,"v":-2.4,"v2":-3.5},{"t":55.2,"v":-2.4,"v2":-3.1},{"t":59.6,"v":-2.4,"v2":-3.3},{"t":63.3,"v":-2.4,"v2":-3.6},{"t":68.9,"v":-2.4,"v2":-3.2},{"t":72.7,"v":-2.4,"v2":-3.4},{"t":76.3,"v":-2.4,"v2":-3.1},{"t":81.4,"v":-2.4,"v2":-3.5},{"t":85.6,"v":-2.4,"v2":-3.2},
    {"t":90.1,"v":-2.4,"v2":-3.4},{"t":93.8,"v":-2.4,"v2":-3.1},{"t":98.2,"v":-2.4,"v2":-3.6},{"t":103.0,"v":-2.4,"v2":-3.3},{"t":107.1,"v":-2.4,"v2":-3.5},{"t":111.9,"v":-2.4,"v2":-3.2},{"t":117.3,"v":-2.4,"v2":-3.4},{"t":120.4,"v":-2.4,"v2":-3.1},{"t":125.2,"v":-2.4,"v2":-3.5},{"t":128.3,"v":-2.4,"v2":-3.2},
    {"t":133.0,"v":-2.4,"v2":-3.4},{"t":136.7,"v":-2.4,"v2":-3.1},{"t":141.5,"v":-2.4,"v2":-3.3},{"t":144.8,"v":-2.4,"v2":-3.5},{"t":149.2,"v":-2.4,"v2":-3.2},{"t":153.6,"v":-2.4,"v2":-3.4},{"t":156.9,"v":-2.4,"v2":-3.1}
   ]},
    "mark": {"type": "rule", "color": "#222", "strokeWidth": 0.8},
    "encoding": {"y2": {"field": "v2"}}},
   {"data": {"values": [
    {"t":49.6,"v":-2.5,"v2":-5.7},{"t":105.1,"v":-2.5,"v2":-7.8},{"t":108.6,"v":-2.5,"v2":-6.6},{"t":110.5,"v":-2.5,"v2":-6.9},{"t":113.6,"v":-2.5,"v2":-7.8},{"t":119.6,"v":-2.5,"v2":-7.8},{"t":122.7,"v":-2.5,"v2":-7.8},{"t":123.6,"v":-2.5,"v2":-9.4},
    {"t":8,"v":-2.5,"v2":-3.9},{"t":20,"v":-2.5,"v2":-4.0},{"t":33,"v":-2.5,"v2":-3.8},{"t":41,"v":-2.5,"v2":-4.2},{"t":62,"v":-2.5,"v2":-3.9},{"t":80,"v":-2.5,"v2":-4.1},{"t":95,"v":-2.5,"v2":-3.9},{"t":101,"v":-2.5,"v2":-4.5},{"t":116,"v":-2.5,"v2":-5.0},{"t":131,"v":-2.5,"v2":-4.2},{"t":145,"v":-2.5,"v2":-3.8},{"t":152,"v":-2.5,"v2":-4.0},
    {"t":67.4,"v":2.0,"v2":10.6}
   ]},
    "mark": {"type": "rule", "color": "#666", "strokeWidth": 1},
    "encoding": {"y2": {"field": "v2"}}},
   {"data": {"values": [{"t":94.16,"t2":140.0,"v":3.56,"v2":-9.88}]},
    "mark": {"type": "rect", "fillOpacity": 0, "stroke": "#bdbdbd", "strokeWidth": 1.5},
    "encoding": {"x2": {"field": "t2"}, "y2": {"field": "v2"}}},
   {"data": {"values": [{"t":140.0,"v":3.56,"t2":181.45,"v2":4.875},{"t":140.0,"v":-9.88,"t2":181.45,"v2":-25.13}]},
    "mark": {"type": "rule", "color": "#bdbdbd", "strokeWidth": 1.5},
    "encoding": {"x2": {"field": "t2"}, "y2": {"field": "v2"}}},
   {"data": {"values": [{"t":7.26,"v":-4.56,"t2":7.26,"v2":-9.56},{"t":7.26,"v":-9.56,"t2":27.28,"v2":-9.56}]},
    "mark": {"type": "rule", "color": "#111", "strokeWidth": 1.3},
    "encoding": {"x2": {"field": "t2"}, "y2": {"field": "v2"}}},
   {"data": {"values": [{"t":-10.75,"v":-0.3,"s":"-70 mV"}]},
    "mark": {"type": "text", "font": "Liberation Sans", "fontWeight": "bold", "fontSize": 11, "align": "right", "baseline": "middle", "color": "#111"},
    "encoding": {"text": {"field": "s"}}},
   {"data": {"values": [{"t":16.97,"v":-11.57,"s":"20 s"}]},
    "mark": {"type": "text", "font": "Liberation Sans", "fontWeight": "bold", "fontSize": 11, "align": "center", "baseline": "middle", "color": "#111"},
    "encoding": {"text": {"field": "s"}}},
   {"data": {"values": [{"t":0.44,"v":-7.18,"s":"5 pA"}]},
    "mark": {"type": "text", "font": "Liberation Sans", "fontWeight": "bold", "fontSize": 11, "align": "center", "baseline": "middle", "angle": 270, "color": "#111"},
    "encoding": {"text": {"field": "s"}}}
  ]},
 {"width": 578, "height": 312,
  "encoding": {
   "x": {"field": "t", "type": "quantitative", "scale": {"domain": [-0.692, 47.475], "nice": false, "zero": false}, "axis": null},
   "y": {"field": "v", "type": "quantitative", "scale": {"domain": [-17.12, 10.41], "nice": false, "zero": false}, "axis": null}},
  "layer": [
   {"data": {"values": [{"t":-0.66,"t2":25.31,"v":2.56,"v2":-11.56}]},
    "mark": {"type": "rect", "fillOpacity": 0, "stroke": "#bdbdbd", "strokeWidth": 1.5},
    "encoding": {"x2": {"field": "t2"}, "y2": {"field": "v2"}}},
   {"data": {"values": [
    {"t":0,"v":1.6,"v2":-1.9},{"t":0.4,"v":1.8,"v2":-2.2},{"t":0.8,"v":1.5,"v2":-1.9},{"t":1.2,"v":1.8,"v2":-2.3},{"t":1.6,"v":2.0,"v2":-2.2},{"t":2.0,"v":1.6,"v2":-2.5},{"t":2.4,"v":1.8,"v2":-2.3},{"t":2.8,"v":1.5,"v2":-2.6},{"t":3.2,"v":1.7,"v2":-2.3},{"t":3.6,"v":1.4,"v2":-2.4},
    {"t":4.0,"v":1.6,"v2":-2.1},{"t":4.4,"v":1.4,"v2":-2.3},{"t":4.8,"v":1.7,"v2":-1.9},{"t":5.2,"v":1.5,"v2":-2.1},{"t":5.6,"v":1.6,"v2":-1.8},{"t":6.0,"v":1.4,"v2":-2.0},{"t":6.4,"v":1.6,"v2":-1.8},{"t":6.8,"v":1.5,"v2":-2.1},{"t":7.2,"v":1.7,"v2":-1.9},{"t":7.6,"v":1.4,"v2":-2.0},
    {"t":8.0,"v":1.6,"v2":-1.8},{"t":8.4,"v":1.4,"v2":-2.1},{"t":8.8,"v":1.7,"v2":-1.8},{"t":9.2,"v":1.5,"v2":-2.0},{"t":9.6,"v":1.6,"v2":-1.7},{"t":10.0,"v":1.4,"v2":-2.0},{"t":10.4,"v":1.7,"v2":-1.8},{"t":10.8,"v":1.5,"v2":-2.1},{"t":11.2,"v":1.6,"v2":-1.8},{"t":11.6,"v":1.4,"v2":-1.9},
    {"t":12.0,"v":1.6,"v2":-1.8},{"t":12.4,"v":1.5,"v2":-2.1},{"t":12.8,"v":1.7,"v2":-1.8},{"t":13.2,"v":1.5,"v2":-2.0},{"t":13.6,"v":1.7,"v2":-1.9},{"t":14.0,"v":1.5,"v2":-2.1},{"t":14.4,"v":1.8,"v2":-1.8},{"t":14.8,"v":1.6,"v2":-2.0},{"t":15.2,"v":1.7,"v2":-1.8},{"t":15.6,"v":1.6,"v2":-2.0},
    {"t":16.0,"v":1.8,"v2":-1.7},{"t":16.4,"v":1.6,"v2":-1.9},{"t":16.8,"v":1.8,"v2":-1.8},{"t":17.2,"v":1.6,"v2":-2.0},{"t":17.6,"v":1.8,"v2":-1.8},{"t":18.0,"v":1.6,"v2":-1.9},{"t":18.4,"v":1.9,"v2":-1.7},{"t":18.8,"v":1.7,"v2":-2.0},{"t":19.2,"v":1.8,"v2":-1.8},{"t":19.6,"v":1.6,"v2":-1.9},
    {"t":20.0,"v":1.9,"v2":-1.7},{"t":20.4,"v":1.7,"v2":-2.0},{"t":20.8,"v":1.8,"v2":-1.8},{"t":21.2,"v":1.7,"v2":-1.9},{"t":21.6,"v":1.9,"v2":-1.7},{"t":22.0,"v":1.7,"v2":-1.9},{"t":22.4,"v":2.0,"v2":-1.7},{"t":22.8,"v":1.8,"v2":-2.0},{"t":23.2,"v":1.9,"v2":-1.7},{"t":23.6,"v":1.8,"v2":-1.9},
    {"t":24.0,"v":2.0,"v2":-1.7},{"t":24.33,"v":1.9,"v2":-1.8}
   ]},
    "mark": {"type": "area", "color": "#000", "opacity": 1},
    "encoding": {"y2": {"field": "v2"}}},
   {"data": {"values": [
    {"t":0.25,"v":1.5,"v2":2.2},{"t":0.9,"v":1.5,"v2":2.4},{"t":1.45,"v":1.7,"v2":2.6},{"t":1.9,"v":1.6,"v2":2.3},{"t":2.65,"v":1.5,"v2":2.2},{"t":3.35,"v":1.5,"v2":2.1},{"t":4.15,"v":1.4,"v2":2.0},{"t":4.95,"v":1.5,"v2":2.2},{"t":5.75,"v":1.4,"v2":2.1},{"t":6.55,"v":1.4,"v2":1.9},
    {"t":7.35,"v":1.5,"v2":2.2},{"t":8.15,"v":1.4,"v2":2.0},{"t":8.95,"v":1.5,"v2":2.1},{"t":9.75,"v":1.5,"v2":2.3},{"t":10.55,"v":1.5,"v2":2.0},{"t":11.35,"v":1.5,"v2":2.2},{"t":12.15,"v":1.5,"v2":2.0},{"t":12.95,"v":1.6,"v2":2.3},{"t":13.75,"v":1.6,"v2":2.1},{"t":14.55,"v":1.6,"v2":2.2},
    {"t":15.35,"v":1.6,"v2":2.3},{"t":16.15,"v":1.7,"v2":2.2},{"t":16.95,"v":1.7,"v2":2.4},{"t":17.75,"v":1.7,"v2":2.2},{"t":18.55,"v":1.7,"v2":2.3},{"t":19.35,"v":1.7,"v2":2.5},{"t":20.15,"v":1.8,"v2":2.3},{"t":20.95,"v":1.8,"v2":2.4},{"t":21.75,"v":1.8,"v2":2.5},{"t":22.55,"v":1.8,"v2":2.3},{"t":23.35,"v":1.8,"v2":2.6},{"t":24.15,"v":1.9,"v2":2.4},
    {"t":0.55,"v":-1.9,"v2":-2.9},{"t":1.05,"v":-2.1,"v2":-3.1},{"t":1.75,"v":-2.2,"v2":-3.3},{"t":2.55,"v":-2.3,"v2":-3.0},{"t":3.05,"v":-2.3,"v2":-3.4},{"t":4.45,"v":-2.0,"v2":-2.8},{"t":5.35,"v":-1.9,"v2":-2.6},{"t":6.15,"v":-1.8,"v2":-2.7},{"t":7.05,"v":-1.8,"v2":-2.5},{"t":7.85,"v":-1.8,"v2":-2.6},
    {"t":9.45,"v":-1.8,"v2":-2.8},{"t":10.25,"v":-1.8,"v2":-2.5},{"t":11.05,"v":-1.8,"v2":-2.6},{"t":12.85,"v":-1.8,"v2":-2.7},{"t":13.65,"v":-1.8,"v2":-2.5},{"t":15.05,"v":-1.8,"v2":-2.6},{"t":15.85,"v":-1.8,"v2":-2.8},{"t":16.65,"v":-1.8,"v2":-2.5},{"t":17.35,"v":-1.8,"v2":-2.6},{"t":18.25,"v":-1.8,"v2":-2.7},
    {"t":19.05,"v":-1.7,"v2":-2.5},{"t":19.85,"v":-1.7,"v2":-2.6},{"t":20.65,"v":-1.7,"v2":-2.4},{"t":22.35,"v":-1.7,"v2":-2.6},{"t":23.15,"v":-1.7,"v2":-2.5},{"t":23.95,"v":-1.7,"v2":-2.4}
   ]},
    "mark": {"type": "rule", "color": "#222", "strokeWidth": 0.8},
    "encoding": {"y2": {"field": "v2"}}},
   {"data": {"values": [
    {"t":2.17,"v":-1.8,"v2":-5.83},{"t":3.22,"v":-1.8,"v2":-3.71},{"t":3.42,"v":-1.8,"v2":-9.15},{"t":3.83,"v":-1.8,"v2":-5.71},{"t":6.89,"v":-1.8,"v2":-4.15},{"t":8.42,"v":-1.8,"v2":-6.95},{"t":8.62,"v":-1.8,"v2":-3.56},{"t":9.89,"v":-1.8,"v2":-7.68},{"t":11.67,"v":-1.8,"v2":-8.85},{"t":17.62,"v":-1.8,"v2":-9.24},{"t":20.23,"v":-1.8,"v2":-8.12},{"t":21.2,"v":-1.8,"v2":-8.71},{"t":21.39,"v":-1.8,"v2":-7.68},{"t":21.89,"v":-1.8,"v2":-10.62},{"t":22.81,"v":-1.8,"v2":-3.12},
    {"t":0.6,"v":-1.8,"v2":-2.9},{"t":5.0,"v":-1.8,"v2":-2.8},{"t":12.5,"v":-1.8,"v2":-2.9},{"t":14.2,"v":-1.8,"v2":-3.0},{"t":15.4,"v":-1.8,"v2":-2.7},{"t":18.8,"v":-1.8,"v2":-3.0},{"t":23.6,"v":-1.8,"v2":-2.6}
   ]},
    "mark": {"type": "rule", "color": "#666", "strokeWidth": 1},
    "encoding": {"y2": {"field": "v2"}}},
   {"data": {"values": [{"t":0.867,"v":-7.59,"t2":0.867,"v2":-9.59},{"t":0.867,"v":-9.59,"t2":5.867,"v2":-9.59}]},
    "mark": {"type": "rule", "color": "#111", "strokeWidth": 1.3},
    "encoding": {"x2": {"field": "t2"}, "y2": {"field": "v2"}}},
   {"data": {"values": [{"t":3.517,"v":-10.62,"s":"5 s"}]},
    "mark": {"type": "text", "font": "Liberation Sans", "fontWeight": "bold", "fontSize": 11, "align": "center", "baseline": "middle", "color": "#111"},
    "encoding": {"text": {"field": "s"}}},
   {"data": {"values": [{"t":-0.125,"v":-8.56,"s":"2 pA"}]},
    "mark": {"type": "text", "font": "Liberation Sans", "fontWeight": "bold", "fontSize": 11, "align": "center", "baseline": "middle", "angle": 270, "color": "#111"},
    "encoding": {"text": {"field": "s"}}},
   {"data": {"values": [{"t":18.475,"v":-16.59,"s":"Post-synaptic potentials"}]},
    "mark": {"type": "text", "font": "Lato", "fontSize": 27, "align": "left", "baseline": "alphabetic", "color": "#111"},
    "encoding": {"text": {"field": "s"}}}
  ]}
], "spacing": 0, "bounds": "flush"}
]
}
